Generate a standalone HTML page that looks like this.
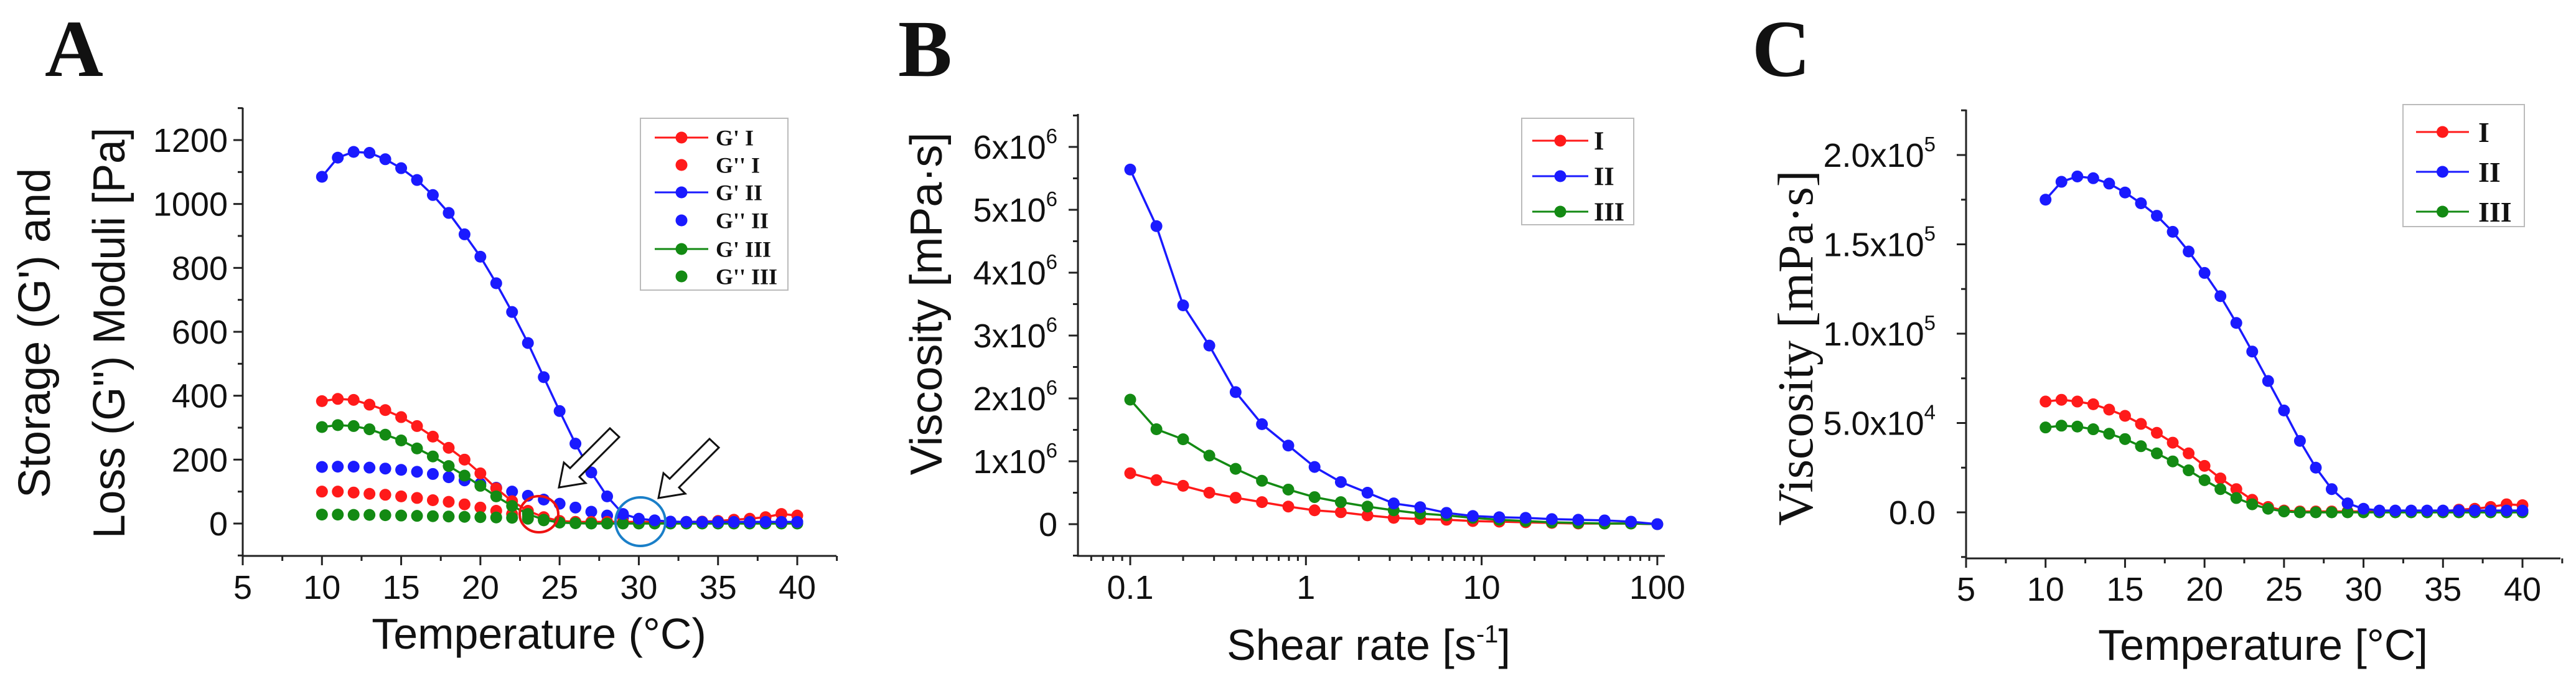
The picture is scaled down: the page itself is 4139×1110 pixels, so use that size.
<!DOCTYPE html>
<html><head><meta charset="utf-8"><style>
html,body{margin:0;padding:0;background:#fff;}
svg{display:block;}
text{font-family:"Liberation Sans",sans-serif;fill:#111;}
.ser{font-family:"Liberation Serif",serif;font-weight:bold;}
</style></head><body>
<svg id="fig" width="4139" height="1110" viewBox="0 0 4139 1110" xmlns="http://www.w3.org/2000/svg">
<rect width="4139" height="1110" fill="#fff"/>
<text class="ser" x="72" y="122" font-size="130">A</text>
<text class="ser" x="1443" y="122" font-size="130">B</text>
<text class="ser" x="2815" y="122" font-size="130">C</text>
<g id="gA"></g>
<g id="gB"></g>
<g id="gC"></g>
</svg>
<script>
// Panel A data (temperature °C, modulus Pa)
const tempA = [10,11,12,13,14,15,16,17,18,19,20,21,22,23,24,25,26,27,28,29,30,31,32,33,34,35,36,37,38,39,40];
const gp1 = [383,390,387,372,355,333,305,272,237,200,157,110,70,40,20,8,5,5,5,5,5,5,5,5,6,8,12,15,20,30,25];
const gpp1 = [100,100,97,93,90,85,80,73,68,60,50,40,30,22,15,8,5,5,5,5,5,5,5,5,5,5,5,5,5,5,5];
const gp2 = [1085,1145,1163,1160,1140,1112,1075,1028,972,905,835,752,662,565,458,352,250,160,85,30,15,10,6,5,5,5,5,5,5,5,5];
const gpp2 = [177,178,178,175,172,168,162,155,145,135,125,112,100,87,75,62,50,37,25,18,12,8,5,5,5,5,5,5,5,5,5];
const gp3 = [302,308,305,295,278,260,235,210,180,150,118,85,55,30,12,3,1,0,0,0,0,0,0,0,0,0,0,0,0,0,0];
const gpp3 = [28,28,27,27,26,25,24,23,22,21,20,19,18,15,10,6,5,4,4,4,4,4,4,4,4,4,4,4,4,4,4];
const ticksAX = [5,10,15,20,25,30,35,40];
const ticksAY = [0,200,400,600,800,1000,1200];
// Panel B data (shear rate 1/s, viscosity 1e6 mPa·s)
const shearB = [0.1,0.141,0.2,0.282,0.398,0.562,0.794,1.12,1.58,2.24,3.16,4.47,6.31,8.91,12.6,17.8,25.1,35.5,50.1,70.8,100];
const viscB1 = [0.81,0.70,0.61,0.50,0.42,0.35,0.28,0.22,0.19,0.14,0.10,0.08,0.07,0.05,0.04,0.03,0.02,0.01,0.01,0.01,0.0];
const viscB2 = [5.64,4.74,3.48,2.84,2.10,1.59,1.25,0.91,0.67,0.50,0.33,0.27,0.18,0.13,0.11,0.10,0.08,0.07,0.06,0.04,0.0];
const viscB3 = [1.98,1.51,1.35,1.09,0.88,0.69,0.55,0.43,0.35,0.28,0.22,0.17,0.14,0.10,0.07,0.05,0.03,0.02,0.01,0.01,0.0];
const ticksBX = [0.1,1,10,100];
const ticksBXLabels = ["0.1","1","10","100"];
const ticksBY = [0,1,2,3,4,5,6];
// Panel C data (temperature °C, viscosity 1e4 mPa·s)
const tempC = [10,11,12,13,14,15,16,17,18,19,20,21,22,23,24,25,26,27,28,29,30,31,32,33,34,35,36,37,38,39,40];
const viscC1 = [6.2,6.3,6.2,6.05,5.75,5.4,4.95,4.45,3.9,3.3,2.6,1.9,1.3,0.7,0.3,0.1,0.05,0.05,0.05,0.05,0.05,0.05,0.05,0.05,0.05,0.05,0.15,0.2,0.3,0.45,0.4];
const viscC2 = [17.5,18.5,18.8,18.7,18.4,17.9,17.3,16.6,15.7,14.6,13.4,12.1,10.6,9.0,7.35,5.7,4.0,2.5,1.3,0.5,0.2,0.1,0.1,0.1,0.1,0.1,0.1,0.1,0.1,0.1,0.1];
const viscC3 = [4.75,4.85,4.8,4.65,4.4,4.1,3.7,3.3,2.85,2.35,1.8,1.3,0.8,0.45,0.2,0.05,0,0,0,0,0,0,0,0,0,0,0,0,0,0,0];
const ticksCX = [5,10,15,20,25,30,35,40];
const ticksCY = [0,5,10,15,20];
const ticksCYLabels = [["0.0",""],["5.0x10","4"],["1.0x10","5"],["1.5x10","5"],["2.0x10","5"]];

const NS="http://www.w3.org/2000/svg";
const RED="#ff1a1a", BLUE="#1a1aff", GREEN="#138a13";
function mk(tag, parent, attrs){const e=document.createElementNS(NS,tag);for(const k in attrs)e.setAttribute(k,attrs[k]);parent.appendChild(e);return e;}

function series(g, xs, ys, sx, sy, color, withLine, name){
  const sg=mk('g',g,{});
  
  
  if(withLine){
    const pts=xs.map((x,i)=>sx(x)+','+sy(ys[i])).join(' ');
    const pl=mk('polyline',sg,{points:pts,fill:'none',stroke:color,'stroke-width':3.5});
    
    
  }
  xs.forEach((x,i)=>{
    const c=mk('circle',sg,{cx:sx(x),cy:sy(ys[i]),r:9.5,fill:color});
    
    
  });
}
function axes(g, x0, y0, x1, y1){
  const a=mk('path',g,{d:`M${x0},${y1} L${x0},${y0} L${x1},${y0}`,fill:'none',stroke:'#222','stroke-width':3});
  
  
}
function legend(g, bx, by, bw, bh, rows, lx0, lx1, tx, fs, name){
  const lg=mk('g',g,{});
  
  
  mk('rect',lg,{x:bx,y:by,width:bw,height:bh,fill:'none',stroke:'#bbb','stroke-width':2});
  rows.forEach(r=>{
    const eg=mk('g',lg,{});
    
    
    if(r.line) mk('line',eg,{x1:lx0,x2:lx1,y1:r.y,y2:r.y,stroke:r.c,'stroke-width':3});
    mk('circle',eg,{cx:(lx0+lx1)/2,cy:r.y,r:9.5,fill:r.c});
    const t=mk('text',eg,{x:tx,y:r.y+fs*0.35,'font-size':fs,class:'ser'});
    t.textContent=r.t;
  });
}
function txt(g, x, y, s, fs, anchor, name, extra){
  const t=mk('text',g,Object.assign({x:x,y:y,'font-size':fs,'text-anchor':anchor||'start'},extra||{}));
  t.textContent=s;
  
  
  return t;
}

// ---------- Panel A ----------
(function(){
  const g=document.getElementById('gA');
  const sx=v=>390+(v-5)*(891/35), sy=v=>841-v*(616/1200);
  axes(g,390,893,1344,173);
  for(let v=5;v<=42.5;v+=2.5){const x=sx(v);mk('line',g,{x1:x,x2:x,y1:893,y2:v%5===0?908:901,stroke:'#222','stroke-width':3});}
  for(let v=-100;v<=1300;v+=100){const y=sy(v);mk('line',g,{x1:390,x2:v%200===0?375:382,y1:y,y2:y,stroke:'#222','stroke-width':3});}
  ticksAX.forEach(v=>txt(g,sx(v),962,String(v),54,'middle','x-tick-label'));
  ticksAY.forEach(v=>txt(g,366,sy(v)+19,String(v),54,'end','y-tick-label'));
  txt(g,866,1042,'Temperature (°C)',70,'middle','x-axis-title');
  txt(g,0,0,"Storage (G') and",72,'middle','y-axis-title-line1',{transform:'translate(80,535) rotate(-90)'});
  txt(g,0,0,"Loss (G'') Moduli [Pa]",72,'middle','y-axis-title-line2',{transform:'translate(200,535) rotate(-90)',textLength:660,lengthAdjust:'spacingAndGlyphs'});
  series(g,tempA,gpp1,sx,sy,RED,false,'series-g2-i');
  series(g,tempA,gpp2,sx,sy,BLUE,false,'series-g2-ii');
  series(g,tempA,gpp3,sx,sy,GREEN,false,'series-g2-iii');
  series(g,tempA,gp1,sx,sy,RED,true,'series-g1-i');
  series(g,tempA,gp3,sx,sy,GREEN,true,'series-g1-iii');
  series(g,tempA,gp2,sx,sy,BLUE,true,'series-g1-ii');
  const rc=mk('ellipse',g,{cx:866,cy:826,rx:31,ry:29,fill:'none',stroke:'#ee1111','stroke-width':4});
  
  
  const bc=mk('ellipse',g,{cx:1029,cy:838,rx:40,ry:39,fill:'none',stroke:'#1a7fc8','stroke-width':4});
  
  
  function arrow(tx,ty,name){
    const p=`M${tx},${ty} l8,-40 l10,9 l64,-64 l15,14 l-64,64 l10,10 z`;
    const a=mk('path',g,{d:p,fill:'#fff',stroke:'#111','stroke-width':3});
    
    
  }
  arrow(898,783,'arrow-crossover-i');
  arrow(1058,800,'arrow-crossover-ii');
  legend(g,1029,190,237,276,[
    {y:221,c:RED,line:true,t:"G' I"},{y:265,c:RED,line:false,t:"G'' I"},
    {y:309,c:BLUE,line:true,t:"G' II"},{y:354,c:BLUE,line:false,t:"G'' II"},
    {y:400,c:GREEN,line:true,t:"G' III"},{y:444,c:GREEN,line:false,t:"G'' III"}],
    1052,1138,1150,36,'legend-a');
})();

// ---------- Panel B ----------
(function(){
  const g=document.getElementById('gB');
  const sx=v=>1816+(Math.log10(v)+1)*282.3, sy=v=>842-v*101;
  axes(g,1732,893,2675,183);
  for(let d=-2;d<=2;d++){for(let m=1;m<=9;m++){const v=m*Math.pow(10,d);const x=sx(v);if(x<1732||x>2675)continue;mk('line',g,{x1:x,x2:x,y1:893,y2:m===1?908:901,stroke:'#222','stroke-width':3});}}
  for(let v=-0.5;v<=6.5;v+=0.5){const y=sy(v);mk('line',g,{x1:1732,x2:v%1===0?1717:1724,y1:y,y2:y,stroke:'#222','stroke-width':3});}
  ticksBX.forEach((v,i)=>txt(g,sx(v),962,ticksBXLabels[i],54,'middle','x-tick-label'));
  ticksBY.forEach(v=>{
    if(v===0){txt(g,1699,sy(v)+19,'0',54,'end','y-tick-label');return;}
    const t=txt(g,1699,sy(v)+19,'',54,'end','y-tick-label');
    const a=mk('tspan',t,{});a.textContent=v+'x10';
    const b=mk('tspan',t,{'font-size':33,dy:-25});b.textContent='6';
  });
  const xt=txt(g,2199,1060,'Shear rate [s',70,'middle','x-axis-title');
  const s1=mk('tspan',xt,{'font-size':40,dy:-28});s1.textContent='-1';
  const s2=mk('tspan',xt,{dy:28});s2.textContent=']';
  txt(g,0,0,'Viscosity [mPa·s]',72,'middle','y-axis-title',{transform:'translate(1513,488) rotate(-90)'});
  series(g,shearB,viscB1,sx,sy,RED,true,'series-i');
  series(g,shearB,viscB3,sx,sy,GREEN,true,'series-iii');
  series(g,shearB,viscB2,sx,sy,BLUE,true,'series-ii');
  legend(g,2445,190,180,171,[{y:226,c:RED,line:true,t:'I'},{y:283,c:BLUE,line:true,t:'II'},{y:340,c:GREEN,line:true,t:'III'}],2462,2552,2561,42,'legend-b');
})();

// ---------- Panel C ----------
(function(){
  const g=document.getElementById('gC');
  const sx=v=>3159+(v-5)*(894/35), sy=v=>823-v*(143.5/5);
  axes(g,3159,897,4114,176);
  for(let v=5;v<=42.5;v+=2.5){const x=sx(v);mk('line',g,{x1:x,x2:x,y1:897,y2:v%5===0?912:905,stroke:'#222','stroke-width':3});}
  for(let v=-2.5;v<=22.5;v+=2.5){const y=sy(v);mk('line',g,{x1:3159,x2:v%5===0?3144:3151,y1:y,y2:y,stroke:'#222','stroke-width':3});}
  ticksCX.forEach(v=>txt(g,sx(v),965,String(v),54,'middle','x-tick-label'));
  ticksCY.forEach((v,i)=>{
    const t=txt(g,3110,sy(v)+19,'',54,'end','y-tick-label');
    const a=mk('tspan',t,{});a.textContent=ticksCYLabels[i][0];
    if(ticksCYLabels[i][1]){const b=mk('tspan',t,{'font-size':33,dy:-25});b.textContent=ticksCYLabels[i][1];}
  });
  txt(g,3636,1060,'Temperature [°C]',70,'middle','x-axis-title');
  txt(g,0,0,'Viscosity [mPa·s]',80,'middle','y-axis-title',{transform:'translate(2912,559) rotate(-90)',style:'font-family:"Liberation Serif",serif'});
  series(g,tempC,viscC1,sx,sy,RED,true,'series-i');
  series(g,tempC,viscC3,sx,sy,GREEN,true,'series-iii');
  series(g,tempC,viscC2,sx,sy,BLUE,true,'series-ii');
  legend(g,3861,168,195,196,[{y:212,c:RED,line:true,t:'I'},{y:276,c:BLUE,line:true,t:'II'},{y:340,c:GREEN,line:true,t:'III'}],3882,3967,3982,46,'legend-c');
})();
</script>
</body></html>
